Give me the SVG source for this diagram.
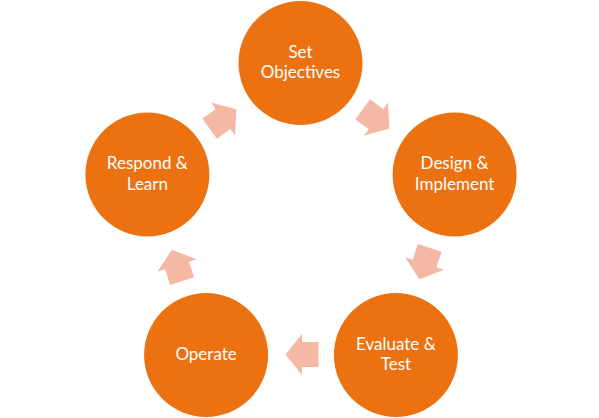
<svg xmlns="http://www.w3.org/2000/svg" width="599" height="418" viewBox="0 0 599 418">
<defs>
<style>
.node circle{fill:#EC7211}
.node text{fill:#ffffff;font-family:Lato,"Open Sans","Noto Sans",sans-serif;font-size:17px;text-anchor:middle}
.arrow{fill:#F5B8A4}
</style>
<polygon id="blk" points="-16.5,-12.5 0,-12.5 0,-20.5 16.5,0 0,20.5 0,12.5 -16.5,12.5"/>
</defs>
<rect width="599" height="418" fill="#ffffff"/>
<g id="connectors">
<use href="#blk" class="arrow" transform="translate(376,119) rotate(36)"/>
<use href="#blk" class="arrow" transform="translate(424.6,263.5) rotate(108)"/>
<use href="#blk" class="arrow" transform="translate(302,354.5) rotate(180)"/>
<use href="#blk" class="arrow" transform="translate(177,265.5) rotate(-108)"/>
<use href="#blk" class="arrow" transform="translate(223,119) rotate(-36)"/>
</g>
<g id="set-objectives" class="node">
<circle cx="300.5" cy="63" r="62"/>
<text x="300.5" y="57.5">Set<tspan x="300.5" dy="20.5">Objectives</tspan></text>
</g>
<g id="design-implement" class="node">
<circle cx="454.6" cy="174.5" r="62"/>
<text x="454.6" y="169">Design &amp;<tspan x="454.6" dy="20.5">Implement</tspan></text>
</g>
<g id="evaluate-test" class="node">
<circle cx="395.9" cy="355" r="62"/>
<text x="395.9" y="349.5">Evaluate &amp;<tspan x="395.9" dy="20.5">Test</tspan></text>
</g>
<g id="operate" class="node">
<circle cx="206.1" cy="355" r="62"/>
<text x="206.1" y="360">Operate</text>
</g>
<g id="respond-learn" class="node">
<circle cx="147.4" cy="174.5" r="62"/>
<text x="147.4" y="169">Respond &amp;<tspan x="147.4" dy="20.5">Learn</tspan></text>
</g>
</svg>
